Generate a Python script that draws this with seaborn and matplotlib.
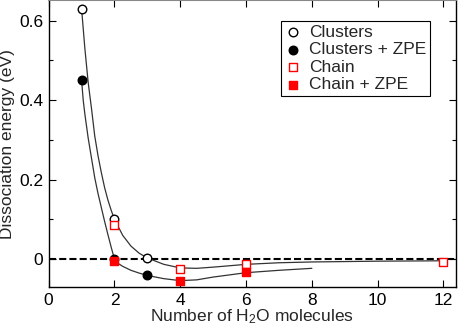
import numpy as np
import pandas as pd
import matplotlib
matplotlib.use("Agg")
import matplotlib.pyplot as plt
import seaborn as sns

# markers
clusters_n = [1, 2, 3]
clusters_e = [0.63, 0.10, 0.003]
clusters_zpe_n = [1, 2, 3]
clusters_zpe_e = [0.45, 0.0, -0.04]
chain_n = [2, 4, 6, 12]
chain_e = [0.085, -0.024, -0.012, -0.006]
chain_zpe_n = [2, 4, 6]
chain_zpe_e = [-0.005, -0.055, -0.032]

# fitted curves
fit_upper_n = [1.0, 1.1, 1.2, 1.3, 1.4, 1.5, 1.6, 1.7, 1.8, 1.9, 2.0, 2.25, 2.5,
               2.75, 3.0, 3.5, 4.0, 4.5, 5.0, 6.0, 7.0, 8.0, 10.0, 12.0]
fit_upper_e = [0.63, 0.53, 0.445, 0.38, 0.31, 0.26, 0.218, 0.18, 0.149, 0.123,
               0.10, 0.06, 0.033, 0.015, 0.003, -0.013, -0.022, -0.023, -0.02,
               -0.013, -0.009, -0.007, -0.005, -0.004]
fit_lower_n = [1.0, 1.05, 1.1, 1.2, 1.3, 1.4, 1.5, 1.6, 1.7, 1.8, 1.9, 2.0, 2.1,
               2.25, 2.5, 2.75, 3.0, 3.5, 4.0, 4.5, 5.0, 6.0, 7.0, 8.0]
fit_lower_e = [0.45, 0.40, 0.365, 0.305, 0.255, 0.205, 0.165, 0.13, 0.095,
               0.062, 0.03, 0.0, -0.01, -0.018, -0.028, -0.035, -0.041, -0.049,
               -0.054, -0.052, -0.045, -0.034, -0.028, -0.023]

sns.set_style("ticks")
plt.rcParams["font.family"] = ["Liberation Sans", "DejaVu Sans"]
plt.rcParams["mathtext.default"] = "regular"
plt.rcParams["font.size"] = 12.5
plt.rcParams["xtick.labelsize"] = 12.5
plt.rcParams["ytick.labelsize"] = 12.5

fig = plt.figure(figsize=(4.58, 3.28), dpi=100)
ax = fig.add_axes([0.1063, 0.125, 0.8893, 0.8735])

ax.axhline(0, color="black", lw=1.5, ls=(0, (3.4, 1.5)), zorder=1)

sns.lineplot(x=fit_upper_n, y=fit_upper_e, ax=ax, color="#333333", lw=0.9,
             sort=False, estimator=None, zorder=2)
sns.lineplot(x=fit_lower_n, y=fit_lower_e, ax=ax, color="#333333", lw=0.9,
             sort=False, estimator=None, zorder=2)

sns.scatterplot(x=clusters_n, y=clusters_e, ax=ax, marker="o", s=38,
                facecolor="white", edgecolor="black", linewidth=1.0,
                label="Clusters", zorder=3)
sns.scatterplot(x=clusters_zpe_n, y=clusters_zpe_e, ax=ax, marker="o", s=38,
                color="black", edgecolor="black", linewidth=1.0,
                label="Clusters + ZPE", zorder=3)
sns.scatterplot(x=chain_n, y=chain_e, ax=ax, marker="s", s=32,
                facecolor="white", edgecolor="red", linewidth=1.0,
                label="Chain", zorder=4)
sns.scatterplot(x=chain_zpe_n, y=chain_zpe_e, ax=ax, marker="s", s=32,
                color="red", edgecolor="red", linewidth=1.0,
                label="Chain + ZPE", zorder=4)

ax.set_xlim(0, 12.38)
ax.set_ylim(-0.07, 0.651)
ax.set_xticks(range(0, 13, 2))
ax.set_xticklabels([str(v) for v in range(0, 13, 2)], fontsize=12.5)
ax.set_yticks([0, 0.2, 0.4, 0.6])
ax.set_yticklabels(["0", "0.2", "0.4", "0.6"], fontsize=12.5)
ax.set_yticks([0.1, 0.3, 0.5], minor=True)
ax.tick_params(which="both", direction="in", top=True, right=True,
               colors="black", width=0.8)
ax.tick_params(which="major", length=5, pad=4)
ax.tick_params(which="minor", length=3)

ax.set_xlabel("Number of H$_2$O molecules", fontsize=12.5, labelpad=0)
ax.set_ylabel("Dissociation energy (eV)", fontsize=12.5, labelpad=3)

for side in ["left", "bottom", "right"]:
    ax.spines[side].set_color("black")
    ax.spines[side].set_linewidth(1.0)
ax.spines["top"].set_color("#888888")
ax.spines["top"].set_linewidth(1.5)

leg = ax.legend(loc="upper left", bbox_to_anchor=(0.57, 0.927), borderaxespad=0,
                fontsize=12.5, frameon=True, fancybox=False, edgecolor="black",
                framealpha=1, borderpad=0.2, handlelength=1.0,
                handletextpad=0.45, labelspacing=0.13)
leg.get_frame().set_linewidth(0.8)

fig.savefig("out.png", dpi=100)
